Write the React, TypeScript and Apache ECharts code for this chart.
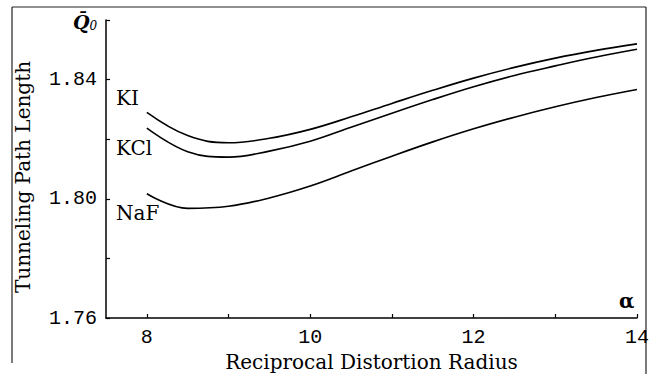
import React, { useEffect, useRef } from "react";
import * as echarts from "echarts";

const alpha = [8, 8.5, 9, 9.5, 10, 10.5, 11, 11.5, 12, 12.5, 13, 13.5, 14];
const kiValues = [1.829, 1.8212, 1.8188, 1.8203, 1.8233, 1.8275, 1.832, 1.8364, 1.8405, 1.8441, 1.8472, 1.8498, 1.852];
const kclValues = [1.8237, 1.8158, 1.814, 1.816, 1.8193, 1.824, 1.8287, 1.8333, 1.8376, 1.8414, 1.8446, 1.8476, 1.8502];
const nafValues = [1.8017, 1.7968, 1.7975, 1.8003, 1.8043, 1.8093, 1.8143, 1.8191, 1.8235, 1.8274, 1.8309, 1.834, 1.8367];

const xLabelValues = [8, 10, 12, 14];
const xTickValues = [8, 9, 10, 11, 12, 13, 14];
const yLabelValues = [1.76, 1.8, 1.84];
const yTickValues = [1.76, 1.78, 1.8, 1.82, 1.84, 1.86];

const seriesNames = ["KI", "KCl", "NaF"];

const serif = "DejaVu Serif";
const mono = "Liberation Mono";

export default function App() {
  const ref = useRef<HTMLDivElement>(null);
  useEffect(() => {
    if (!ref.current) return;
    const chart = echarts.init(ref.current, null, { renderer: "svg" });
    const mk = (name: string, vals: number[]) => ({
      name,
      type: "line",
      smooth: 0.4,
      showSymbol: false,
      symbol: "none",
      data: alpha.map((a, i) => [a, vals[i]]),
      lineStyle: { color: "#000", width: 1.6 },
      emphasis: { disabled: true },
    });
    chart.setOption({
      animation: false,
      backgroundColor: "#fff",
      grid: { left: 106, right: 19, top: 20, bottom: 56, outerBoundsMode: "none", containLabel: false },
      xAxis: {
        type: "value",
        min: 7.5,
        max: 14,
        name: "Reciprocal Distortion Radius",
        nameLocation: "middle",
        nameGap: 29,
        nameTextStyle: { fontFamily: serif, fontSize: 20, color: "#000" },
        axisLine: { lineStyle: { color: "#000", width: 1.5 } },
        axisTick: { show: true, inside: true, length: 4, customValues: xTickValues, lineStyle: { color: "#000", width: 1.2 } },
        axisLabel: {
          customValues: xLabelValues,
          formatter: (v: number) => String(v),
          fontFamily: mono,
          fontSize: 20,
          color: "#000",
          margin: 9,
        },
        splitLine: { show: false },
      },
      yAxis: {
        type: "value",
        min: 1.76,
        max: 1.86,
        name: "Tunneling Path Length",
        nameLocation: "middle",
        nameGap: 73,
        nameRotate: 90,
        nameTextStyle: { fontFamily: serif, fontSize: 20, color: "#000", padding: [0, 16, 0, 0] },
        axisLine: { show: true, lineStyle: { color: "#000", width: 1.5 } },
        axisTick: { show: true, inside: true, length: 4, customValues: yTickValues, lineStyle: { color: "#000", width: 1.2 } },
        axisLabel: {
          customValues: yLabelValues,
          formatter: (v: number) => v.toFixed(2),
          fontFamily: mono,
          fontSize: 20,
          color: "#000",
          margin: 9,
        },
        splitLine: { show: false },
      },
      series: [mk(seriesNames[0], kiValues), mk(seriesNames[1], kclValues), mk(seriesNames[2], nafValues)],
      graphic: [
        { type: "line", shape: { x1: 12, y1: 7, x2: 646, y2: 7 }, style: { stroke: "#222", lineWidth: 1.2 } },
        { type: "line", shape: { x1: 12, y1: 7, x2: 12, y2: 363 }, style: { stroke: "#222", lineWidth: 1.2 } },
        { type: "line", shape: { x1: 646, y1: 7, x2: 646, y2: 374 }, style: { stroke: "#222", lineWidth: 1.2 } },
        { type: "text", left: 116, top: 88, style: { text: seriesNames[0], font: `20px "${serif}"`, fill: "#000" } },
        { type: "text", left: 116, top: 138, style: { text: seriesNames[1], font: `20px "${serif}"`, fill: "#000" } },
        { type: "text", left: 116, top: 203, style: { text: seriesNames[2], font: `20px "${serif}"`, fill: "#000" } },
        { type: "text", left: 619, top: 291, style: { text: "α", font: `bold 20px "${serif}"`, fill: "#000" } },
        {
          type: "text",
          left: 73,
          top: 12,
          style: {
            text: "{q|Q̄}{s|0}",
            rich: {
              q: { fontFamily: serif, fontSize: 19, fontWeight: "bold", fontStyle: "italic", fill: "#000" },
              s: { fontFamily: serif, fontSize: 12, fontStyle: "italic", fill: "#000", padding: [9, 0, 0, 0] },
            },
          },
        },
      ],
    });
    return () => chart.dispose();
  }, []);
  return (
    <div
      ref={ref}
      style={{ position: "fixed", left: 0, top: 0, width: 656, height: 374, background: "#fff" }}
    />
  );
}
